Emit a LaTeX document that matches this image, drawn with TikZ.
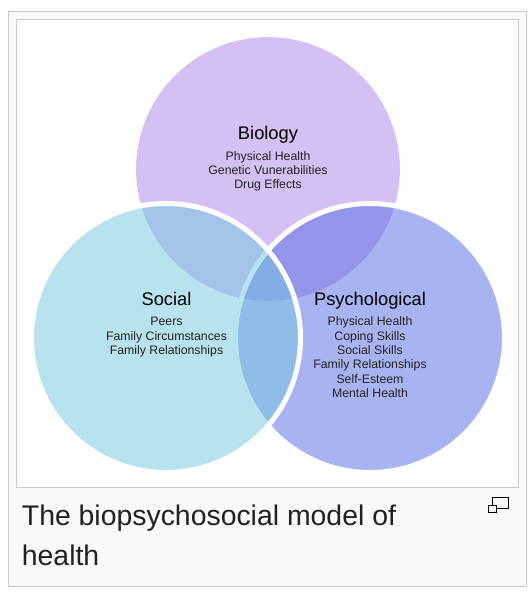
\documentclass[tikz,border=0pt]{standalone}
\usepackage{fontspec}
\setmainfont{Liberation Sans}
\definecolor{framegray}{HTML}{C8CCD1}
\definecolor{capbg}{HTML}{F8F9FA}
\definecolor{captext}{HTML}{202122}
\definecolor{itemtext}{HTML}{222222}
\definecolor{biocol}{RGB}{173,131,233}
\definecolor{psycol}{RGB}{87,105,229}
\definecolor{soccol}{RGB}{117,199,225}
\begin{document}
\begin{tikzpicture}[x=1pt,y=-1pt,
  venn/.style={draw=white, line width=5pt, fill opacity=0.5},
  ttl/.style={anchor=base, font=\fontsize{18.3}{20}\selectfont, text=black, inner sep=0pt},
  itm/.style={anchor=base, font=\fontsize{12.3}{14.4}\selectfont, text=itemtext, inner sep=0pt},
  captxt/.style={anchor=base west, font=\fontsize{28.4}{34}\selectfont, text=captext, inner sep=0pt},
  frm/.style={draw=framegray, line width=1pt},
  icn/.style={draw=black, line width=1.3pt, fill=capbg}
]
\useasboundingbox (0,0) rectangle (532,600);
% frame
\draw[frm, fill=capbg] (8.5,11.5) rectangle (526.5,586.5);
\draw[frm, fill=white] (16.5,19.5) rectangle (518.5,487.5);
% circles
\coordinate (cb) at (268,169);
\coordinate (cs) at (166,338);
\coordinate (cp) at (370,338);
\draw[venn, fill=biocol] (cb) circle[radius=134.5pt];
\draw[venn, fill=psycol] (cp) circle[radius=134.5pt];
\draw[venn, fill=soccol] (cs) circle[radius=134.5pt];
% Biology
\node[ttl] (bioT) at (268,139.3) {Biology};
\node[itm] (bio1) at (268,160) {Physical Health};
\node[itm] (bio2) at (268,174.4) {Genetic Vunerabilities};
\node[itm] (bio3) at (268,188.8) {Drug Effects};
% Social
\node[ttl] (socT) at (166.5,305) {Social};
\node[itm] (soc1) at (166.5,325.7) {Peers};
\node[itm] (soc2) at (166.5,340.1) {Family Circumstances};
\node[itm] (soc3) at (166.5,354.5) {Family Relationships};
% Psychological
\node[ttl] (psyT) at (370,305) {Psychological};
\node[itm] (psy1) at (370,325.7) {Physical Health};
\node[itm] (psy2) at (370,340.1) {Coping Skills};
\node[itm] (psy3) at (370,354.5) {Social Skills};
\node[itm] (psy4) at (370,368.9) {Family Relationships};
\node[itm] (psy5) at (370,383.3) {Self-Esteem};
\node[itm] (psy6) at (370,397.7) {Mental Health};
% caption
\node[captxt] (cap1) at (21.7,525) {The biopsychosocial model of};
\node[captxt] (cap2) at (21.7,565.5) {health};
% enlarge icon
\draw[icn] (492.7,497.8) rectangle (508.7,508.2);
\draw[icn] (488.8,505.5) rectangle (496.8,512.2);
\end{tikzpicture}
\end{document}
